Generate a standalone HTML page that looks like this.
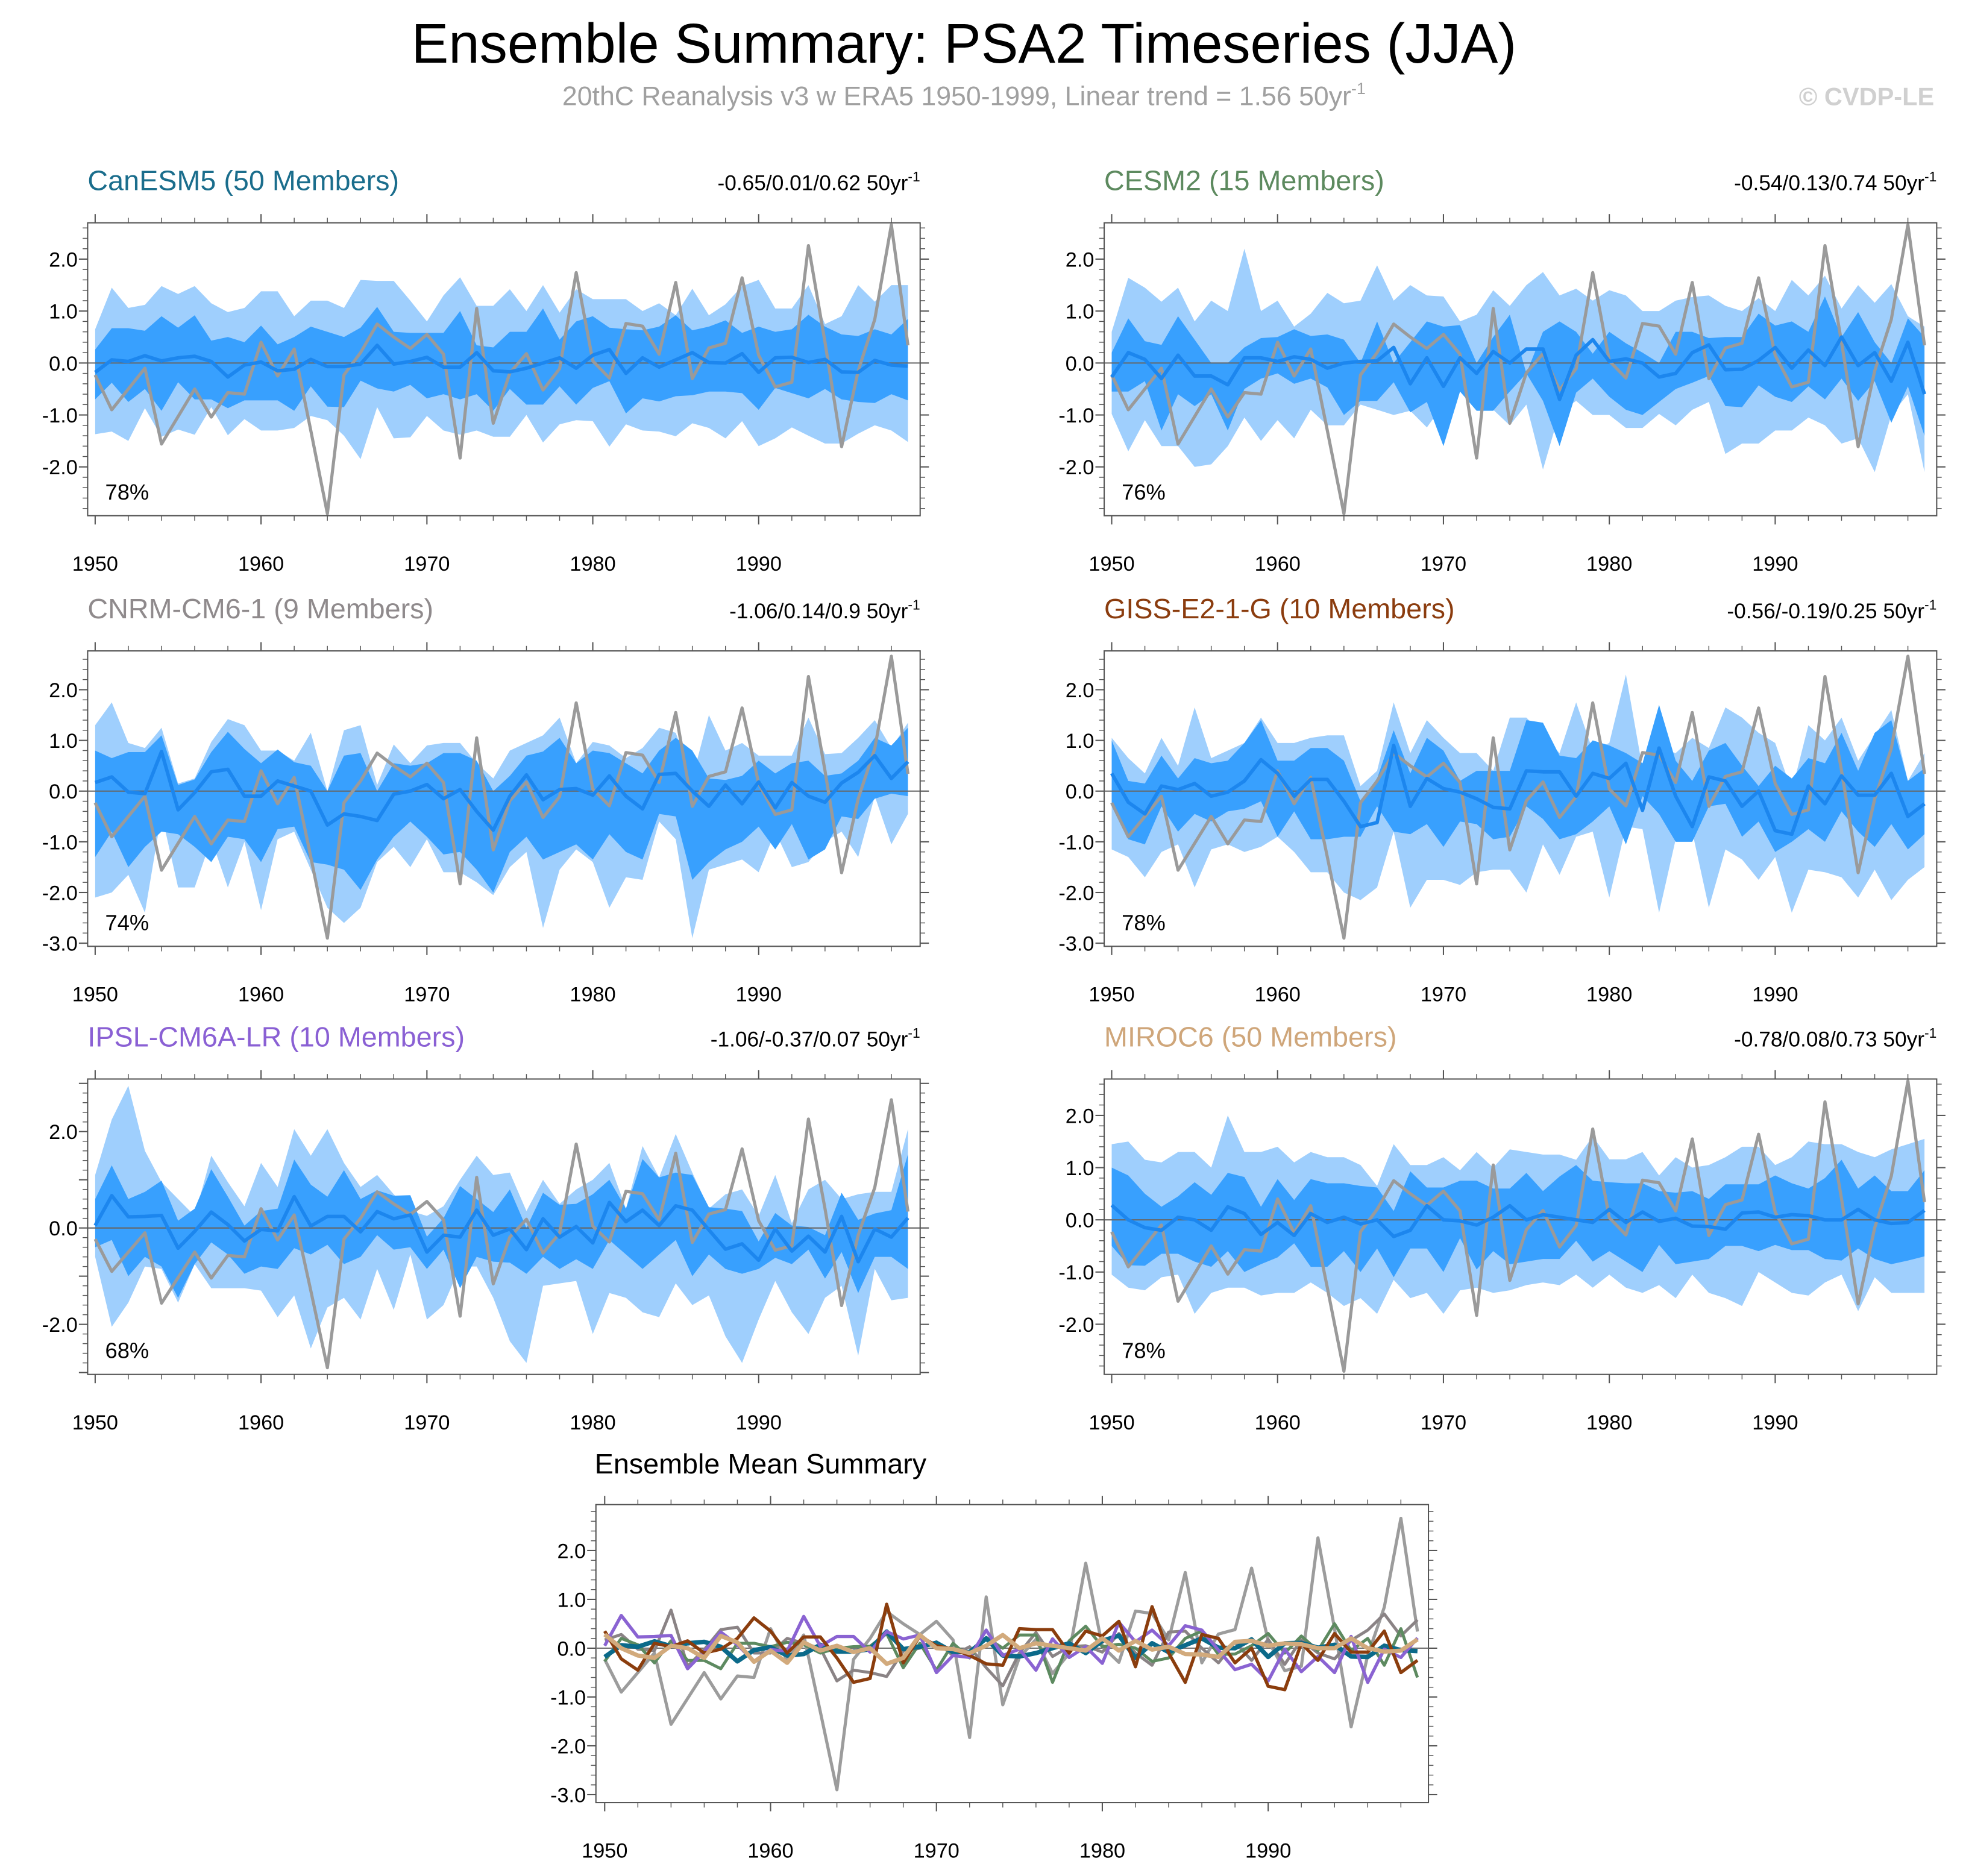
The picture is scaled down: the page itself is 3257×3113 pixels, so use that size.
<!DOCTYPE html>
<html><head><meta charset="utf-8"><title>Ensemble Summary: PSA2 Timeseries (JJA)</title>
<style>
html,body{margin:0;padding:0;background:#fff;}
svg{display:block;font-family:"Liberation Sans",Arial,sans-serif;}
</style></head>
<body>
<svg id="chart" xmlns="http://www.w3.org/2000/svg" width="3257" height="3113" viewBox="0 0 1568 1498.7">
<rect x="0" y="0" width="1568" height="1498.7" fill="#fff"/>
<text x="770" y="50" text-anchor="middle" font-size="44.5" fill="#000">Ensemble Summary: PSA2 Timeseries (JJA)</text>
<text x="770" y="84" text-anchor="middle" font-size="21.5" fill="#a0a0a0">20thC Reanalysis v3 w ERA5 1950-1999, Linear trend = 1.56 50yr<tspan font-size="13" dy="-9">-1</tspan></text>
<text x="1545" y="84" text-anchor="end" font-size="20" font-weight="bold" fill="#d0d0d0">© CVDP-LE</text>
</svg>
<script>
// ---- data (1950-1999 JJA PSA2 index) ----
const startYear = 1950;
const nYears = 50;
const obs = [-0.23,-0.9,-0.5,-0.1,-1.56,-1.03,-0.5,-1.04,-0.57,-0.6,0.4,-0.25,0.27,-1.3,-2.9,-0.23,0.2,0.75,0.5,0.28,0.55,0.17,-1.83,1.05,-1.16,-0.19,0.18,-0.52,-0.11,1.74,0.04,-0.29,0.76,0.71,0.17,1.55,-0.3,0.29,0.38,1.64,0.15,-0.46,-0.37,2.26,0.4,-1.61,-0.15,0.84,2.66,0.34];

const canMean = [-0.18,0.06,0.03,0.14,0.04,0.1,0.13,0.03,-0.27,-0.04,0.02,-0.15,-0.12,0.07,-0.07,-0.07,-0.02,0.34,-0.02,0.03,0.11,-0.08,-0.08,0.2,-0.15,-0.17,-0.1,0.0,0.1,-0.1,0.15,0.26,-0.2,0.1,-0.08,0.06,0.2,0.01,0.0,0.18,-0.18,0.1,0.11,0.01,0.07,-0.17,-0.18,0.05,-0.04,-0.06];
const canDarkHi = [0.26,0.67,0.67,0.62,0.9,0.68,0.92,0.43,0.5,0.4,0.72,0.36,0.5,0.7,0.6,0.5,0.68,1.08,0.6,0.58,0.58,0.58,1.0,0.34,0.3,0.6,0.6,1.05,0.45,0.8,0.9,0.68,0.65,0.63,0.7,0.92,0.63,0.7,0.82,0.58,0.7,0.6,0.65,0.93,0.7,0.55,0.52,0.65,0.55,0.85];
const canDarkLo = [-0.7,-0.38,-0.75,-0.5,-0.92,-0.37,-0.7,-0.7,-0.87,-0.72,-0.72,-0.72,-0.92,-0.45,-0.84,-0.85,-0.34,-0.49,-0.55,-0.42,-0.68,-0.6,-0.7,-0.6,-0.92,-0.5,-0.8,-0.8,-0.45,-0.8,-0.48,-0.35,-0.97,-0.68,-0.74,-0.64,-0.62,-0.55,-0.55,-0.58,-0.9,-0.48,-0.58,-0.68,-0.5,-0.7,-0.75,-0.77,-0.6,-0.72];
const canLightHi = [0.65,1.45,1.06,1.12,1.48,1.33,1.48,1.15,0.98,1.06,1.38,1.38,0.9,1.2,1.2,1.06,1.6,1.58,1.58,1.2,0.8,1.3,1.65,1.1,1.1,1.42,1.0,1.5,0.97,1.42,1.23,1.23,1.23,1.0,1.15,0.92,1.43,0.92,1.13,1.48,1.6,1.05,1.05,1.5,0.75,0.9,1.5,1.18,1.5,1.5];
const canLightLo = [-1.37,-1.32,-1.5,-0.87,-1.42,-1.28,-1.38,-0.85,-1.39,-1.08,-1.3,-1.3,-1.25,-1.02,-1.1,-1.4,-1.85,-0.85,-1.45,-1.43,-1.02,-1.3,-1.38,-1.3,-1.42,-1.42,-1.0,-1.53,-1.18,-1.1,-1.12,-1.61,-1.18,-1.3,-1.32,-1.41,-1.16,-1.25,-1.45,-1.12,-1.6,-1.45,-1.24,-1.4,-1.55,-1.55,-1.36,-1.2,-1.3,-1.52];

const cesmMean = [-0.27,0.2,0.07,-0.3,0.15,-0.25,-0.25,-0.42,0.1,0.1,0.03,0.12,0.07,-0.1,0.0,0.03,0.04,0.3,-0.4,0.1,-0.45,0.1,-0.2,0.22,0.0,0.27,0.27,-0.7,0.15,0.45,0.03,0.08,0.0,-0.27,-0.2,0.2,0.35,-0.13,-0.12,0.05,0.3,-0.1,0.25,-0.05,0.5,-0.05,0.2,-0.35,0.4,-0.6];
const cesmDarkHi = [0.2,0.86,0.42,0.35,0.9,0.45,0.0,0.0,0.3,0.48,0.5,0.65,0.52,0.55,0.45,0.0,0.8,0.0,0.4,0.8,0.7,0.73,0.0,0.5,0.93,-0.2,0.6,0.8,0.6,0.18,0.6,0.38,0.2,0.0,0.6,0.6,0.48,0.5,0.5,0.95,0.72,0.8,0.6,1.28,0.5,0.98,0.4,0.0,0.86,0.5];
const cesmDarkLo = [-0.55,-0.55,-0.35,-1.3,-0.6,-0.83,-0.6,-1.3,-0.5,-0.3,-0.2,-0.4,-0.3,-0.47,-1.0,-0.73,-0.73,-0.37,-0.95,-0.75,-1.6,-0.55,-0.92,-0.92,-0.55,-0.2,-0.73,-1.6,-0.57,-0.3,-0.65,-0.9,-1.0,-0.75,-0.5,-0.38,-0.25,-0.83,-0.85,-0.43,-0.65,-0.75,-0.45,-0.7,-0.3,-0.73,-0.35,-1.15,-0.45,-1.4];
const cesmLightHi = [0.6,1.64,1.45,1.18,1.45,0.8,1.2,1.0,2.2,1.0,1.2,0.7,0.95,1.35,1.15,1.2,1.88,1.2,1.5,1.3,1.28,0.8,0.93,1.4,1.1,1.5,1.75,1.3,1.43,1.2,1.4,1.3,1.0,1.0,1.2,1.27,1.3,1.1,1.0,1.25,1.0,1.6,1.3,1.68,1.05,1.5,1.16,1.52,0.9,0.7];
const cesmLightLo = [-0.98,-1.7,-1.1,-1.6,-1.6,-2.0,-1.95,-1.6,-1.05,-1.5,-1.1,-1.45,-0.9,-1.2,-1.2,-0.8,-0.9,-1.0,-0.92,-1.24,-0.8,-0.35,-0.25,-0.9,-1.2,-0.8,-2.05,-0.95,-0.73,-1.0,-1.0,-1.25,-1.25,-0.98,-1.2,-0.9,-0.75,-1.75,-1.55,-1.55,-1.3,-1.3,-1.05,-1.2,-1.55,-1.45,-2.1,-1.0,-0.6,-2.1];

const cnrmMean = [0.17,0.28,-0.02,-0.05,0.78,-0.37,-0.03,0.38,0.43,-0.1,-0.1,0.2,0.1,0.0,-0.67,-0.45,-0.5,-0.58,-0.06,0.0,0.13,-0.15,0.03,-0.4,-0.77,-0.1,0.32,-0.17,0.03,0.05,-0.08,0.3,-0.1,-0.35,0.33,0.35,0.0,-0.3,0.12,-0.25,0.18,-0.33,0.17,-0.1,-0.22,0.16,0.37,0.7,0.25,0.58];
const cnrmDarkHi = [0.8,0.65,0.77,0.77,1.1,0.12,0.23,0.77,1.17,0.83,0.55,0.82,0.57,0.5,0.0,0.7,0.75,0.0,0.55,0.5,0.55,0.75,0.75,0.6,0.0,0.3,0.7,0.78,1.05,0.55,0.8,0.75,0.55,0.35,0.8,1.05,0.8,0.25,0.22,0.3,0.6,0.35,0.55,0.6,0.3,0.35,0.6,1.05,0.9,1.25];
const cnrmDarkLo = [-1.3,-0.8,-1.5,-1.1,-0.8,-0.85,-1.1,-1.4,-0.9,-0.95,-1.4,-0.75,-0.7,-1.4,-1.45,-1.55,-1.95,-1.35,-0.9,-0.6,-0.9,-1.25,-1.2,-1.55,-2.0,-1.2,-0.9,-1.35,-1.2,-1.05,-1.35,-0.85,-1.2,-1.35,-0.45,-0.5,-1.75,-1.4,-1.15,-1.0,-0.7,-1.15,-0.65,-1.35,-1.15,-0.5,-0.55,-0.15,-0.05,-0.1];
const cnrmLightHi = [1.3,1.75,0.95,0.85,1.25,0.15,0.25,0.97,1.42,1.3,0.8,0.8,0.6,1.15,0.0,1.2,1.3,0.12,0.92,0.55,0.9,0.95,0.95,0.55,0.25,0.8,0.95,1.1,1.45,0.55,0.97,0.9,0.65,0.85,1.25,1.15,0.25,1.5,0.8,0.95,0.7,0.7,0.7,1.45,0.73,0.75,1.05,1.4,0.85,1.35];
const cnrmLightLo = [-2.1,-2.0,-1.65,-2.4,-0.45,-1.9,-1.9,-0.95,-1.9,-1.0,-2.35,-0.95,-0.8,-1.55,-2.3,-2.6,-2.3,-1.4,-1.1,-1.5,-0.95,-1.6,-1.6,-1.8,-2.05,-1.5,-1.2,-2.7,-1.55,-1.15,-1.4,-2.3,-1.7,-1.75,-0.6,-0.95,-2.9,-1.55,-1.45,-1.35,-1.6,-0.8,-1.5,-1.4,-1.0,-0.8,-1.3,-0.1,-1.05,-0.45];

const gissMean = [0.35,-0.22,-0.45,0.1,0.03,0.15,-0.1,-0.02,0.2,0.62,0.35,-0.1,0.23,0.23,-0.2,-0.7,-0.62,0.9,-0.3,0.25,0.05,-0.02,-0.15,-0.32,-0.35,0.4,0.38,0.38,-0.1,0.35,0.25,0.55,-0.38,0.85,-0.1,-0.7,0.28,0.2,-0.3,0.0,-0.78,-0.85,0.1,-0.25,0.3,-0.08,-0.08,0.35,-0.5,-0.25];
const gissDarkHi = [1.0,0.2,0.15,0.7,0.25,0.65,0.55,0.6,0.95,1.4,0.6,0.6,0.85,0.85,0.6,-0.2,0.25,1.2,0.35,1.05,0.8,0.2,0.4,0.4,0.4,1.4,1.35,0.7,0.65,1.0,0.9,0.75,0.55,1.7,0.6,0.2,0.8,0.95,0.5,0.1,0.5,0.25,0.65,0.55,1.15,0.4,1.15,1.4,0.2,0.45];
const gissDarkLo = [-0.25,-0.95,-1.05,-0.3,-0.8,-0.45,-0.6,-0.4,-0.35,-0.2,-0.9,-0.4,-0.95,-0.95,-0.9,-0.9,-0.3,-0.8,-0.85,-0.65,-1.1,-0.6,-0.65,-0.95,-0.9,-0.3,-0.55,-0.95,-0.85,-0.6,-0.3,-1.05,-0.1,-0.45,-1.0,-1.0,-0.3,-0.25,-0.9,-0.6,-1.2,-1.0,-0.75,-1.0,-0.4,-0.8,-1.1,-0.65,-1.15,-0.85];
const gissLightHi = [1.05,0.65,0.35,1.05,0.5,1.65,0.65,0.8,0.95,1.45,0.95,0.95,1.05,1.1,1.1,0.1,0.4,1.75,0.75,1.4,1.05,0.75,0.75,0.4,1.45,1.45,1.1,0.75,1.75,0.8,0.95,2.3,0.45,0.85,0.75,1.05,0.85,1.65,1.45,1.15,0.95,0.0,1.3,1.0,1.45,0.6,1.1,1.6,0.2,0.75];
const gissLightLo = [-1.15,-1.3,-1.7,-1.2,-1.05,-1.9,-1.15,-1.05,-1.2,-1.1,-0.9,-1.2,-1.6,-1.6,-2.0,-2.15,-1.9,-0.8,-2.3,-1.75,-1.75,-1.85,-1.6,-1.55,-1.55,-2.0,-1.05,-1.65,-0.9,-0.8,-2.1,-0.7,-0.75,-2.4,-0.95,-0.8,-2.3,-1.15,-1.35,-1.75,-1.3,-2.4,-1.55,-1.6,-1.7,-2.1,-1.55,-2.15,-1.75,-1.5];

const ipslMean = [0.05,0.67,0.23,0.24,0.26,-0.42,-0.07,0.33,0.07,-0.27,-0.03,-0.06,0.65,0.04,0.24,0.24,-0.08,0.34,0.19,0.27,-0.5,-0.15,-0.19,0.37,-0.15,-0.02,-0.45,0.19,-0.19,0.03,-0.31,0.53,0.13,0.37,0.05,0.46,0.37,-0.04,-0.44,-0.33,-0.67,-0.02,-0.48,-0.17,-0.5,0.24,-0.7,-0.02,-0.19,0.21];
const ipslDarkHi = [0.6,1.3,0.6,0.75,0.98,0.15,0.4,1.22,0.65,0.05,0.35,0.4,1.42,0.9,0.65,1.2,0.6,0.78,0.67,0.68,-0.18,0.2,0.87,0.6,0.33,0.8,0.0,0.73,0.48,0.5,0.7,1.0,0.4,1.43,1.05,1.15,1.1,0.43,0.4,0.35,-0.28,0.31,0.05,0.02,-0.15,0.73,0.17,0.3,0.37,1.53];
const ipslDarkLo = [-0.4,-0.25,-1.0,-0.6,-0.8,-1.45,-0.75,-0.3,-0.55,-0.95,-0.8,-0.85,-0.42,-0.55,-0.35,-0.75,-0.6,-0.15,-0.45,-0.4,-0.85,-0.45,-1.25,-0.6,-0.7,-0.72,-0.95,-0.6,-0.85,-0.65,-0.85,-0.25,-0.55,-0.85,-0.55,-0.25,-1.0,-0.55,-0.85,-0.95,-0.85,-0.62,-0.75,-0.45,-1.05,-0.5,-1.35,-0.6,-0.6,-0.85];
const ipslLightHi = [1.1,2.25,2.95,1.6,0.95,0.6,0.25,1.5,0.95,0.45,1.35,0.85,2.05,1.5,2.05,1.35,0.85,1.1,0.7,0.35,0.25,0.45,1.0,1.5,1.1,1.15,0.35,1.0,0.5,0.8,1.0,1.35,0.4,1.7,1.05,1.95,1.15,0.4,0.7,0.8,0.25,1.1,0.1,0.8,1.0,0.6,0.7,0.75,0.75,2.05];
const ipslLightLo = [-0.6,-2.05,-1.55,-0.8,-0.85,-1.55,-0.75,-1.25,-1.25,-1.25,-1.3,-1.85,-1.4,-2.5,-1.65,-1.45,-1.9,-0.85,-1.7,-0.55,-1.9,-1.6,-0.8,-0.8,-1.45,-2.35,-2.8,-1.2,-1.15,-1.1,-2.2,-1.35,-1.45,-1.75,-1.85,-1.15,-1.6,-1.4,-2.25,-2.8,-1.9,-1.1,-1.75,-2.2,-1.45,-1.2,-2.65,-0.85,-1.5,-1.45];

const mirocMean = [0.28,0.0,-0.15,-0.2,0.05,0.0,-0.2,0.25,0.12,-0.28,-0.05,-0.3,0.12,-0.05,0.05,-0.08,0.0,-0.32,-0.2,0.27,0.0,-0.02,-0.1,0.05,0.27,0.0,0.1,0.05,0.0,-0.05,0.2,-0.05,0.15,-0.03,0.03,-0.12,-0.13,-0.18,0.13,0.15,0.05,0.1,0.08,0.0,0.0,0.2,0.0,-0.07,-0.05,0.18];
const mirocDarkHi = [1.0,0.85,0.5,0.25,0.45,0.72,0.48,0.9,0.82,0.25,0.78,0.38,0.78,0.7,0.7,0.65,0.62,0.17,0.93,0.62,0.62,0.75,0.75,0.6,0.6,0.9,0.55,0.83,1.05,0.75,0.72,0.7,0.7,0.55,0.52,0.55,0.4,0.68,0.68,0.68,0.85,0.7,0.6,0.8,1.15,0.6,0.85,0.55,0.55,0.95];
const mirocDarkLo = [-0.5,-0.87,-0.88,-0.65,-0.65,-0.8,-0.9,-0.6,-1.0,-0.85,-0.72,-0.45,-0.9,-0.9,-0.6,-1.0,-0.55,-1.1,-0.55,-0.55,-1.0,-0.35,-0.95,-0.6,-0.85,-0.8,-0.75,-0.75,-0.4,-0.8,-0.6,-0.8,-1.0,-0.48,-0.85,-0.8,-0.75,-0.5,-0.5,-0.6,-0.48,-0.58,-0.58,-0.75,-0.78,-0.55,-0.75,-0.85,-0.78,-0.7];
const mirocLightHi = [1.45,1.5,1.15,1.1,1.3,1.3,1.0,2.0,1.3,1.3,1.4,1.1,1.3,1.2,1.2,1.05,0.65,1.45,1.05,1.05,1.2,0.95,1.3,1.0,1.35,1.3,1.25,1.25,1.15,1.6,1.16,1.16,1.3,0.85,1.2,1.0,1.05,1.2,1.4,1.4,1.05,1.2,1.5,1.45,1.45,1.3,1.2,1.35,1.45,1.55];
const mirocLightLo = [-1.05,-1.3,-1.35,-1.1,-1.05,-1.8,-1.4,-1.3,-1.3,-1.45,-1.4,-1.4,-1.2,-1.4,-1.65,-1.5,-1.8,-1.15,-1.5,-1.4,-1.8,-1.35,-1.3,-1.4,-1.35,-1.25,-1.2,-1.25,-1.05,-1.3,-1.05,-1.3,-1.4,-1.25,-1.5,-1.05,-1.4,-1.5,-1.65,-1.0,-1.2,-1.4,-1.45,-1.2,-1.05,-1.75,-1.1,-1.4,-1.4,-1.4];

const xTickLabels = ["1950","1960","1970","1980","1990"];
const yTicksA = [2,1,0,-1,-2];
const yTicksB = [2,1,0,-1,-2,-3];
const yTicksC = [2,0,-2];

// ---- drawing ----
const NS = "http://www.w3.org/2000/svg";
const svg = document.getElementById("chart");
function mk(tag, attrs, parent) {
  const e = document.createElementNS(NS, tag);
  for (const k in attrs) e.setAttribute(k, attrs[k]);
  (parent || svg).appendChild(e);
  return e;
}
let clipId = 0;

function makeAxes(g, box, yZero, yScale, yTicks, yMin, yMax) {
  const xOf = yr => box.x0 + (yr - startYear) * box.dx;
  const yOf = v => yZero - v * yScale;
  const frame = mk("rect", {x: box.l, y: box.t, width: box.r - box.l, height: box.b - box.t, fill: "none", stroke: "#555", "stroke-width": 1}, g);
  
  
  for (let yr = startYear; yr < startYear + nYears; yr += 2) {
    const x = xOf(yr);
    const major = (yr % 10 === 0);
    const len = major ? 7 : 4;
    mk("line", {x1: x, x2: x, y1: box.b, y2: box.b + len, stroke: "#555", "stroke-width": major ? 1 : 0.7}, g);
    mk("line", {x1: x, x2: x, y1: box.t, y2: box.t - len, stroke: "#555", "stroke-width": major ? 1 : 0.7}, g);
  }
  xTickLabels.forEach(lbl => {
    const t = mk("text", {x: xOf(+lbl), y: box.b + 44, "text-anchor": "middle", "font-size": 16.5, fill: "#000"}, g);
    t.textContent = lbl;
    
    
  });
  for (let i = Math.ceil(yMin * 5); i <= Math.floor(yMax * 5); i++) {
    const v = i / 5;
    const y = yOf(v);
    const major = (i % 5 === 0);
    const len = major ? 7 : 4;
    mk("line", {x1: box.l, x2: box.l - len, y1: y, y2: y, stroke: "#555", "stroke-width": major ? 1 : 0.7}, g);
    mk("line", {x1: box.r, x2: box.r + len, y1: y, y2: y, stroke: "#555", "stroke-width": major ? 1 : 0.7}, g);
  }
  yTicks.forEach(v => {
    const t = mk("text", {x: box.l - 8, y: yOf(v) + 6, "text-anchor": "end", "font-size": 16.5, fill: "#000"}, g);
    t.textContent = v.toFixed(1);
    
    
  });
  return {xOf, yOf};
}

function linePath(arr, xOf, yOf) {
  return arr.map((v, i) => (i ? "L" : "M") + xOf(startYear + i).toFixed(2) + "," + yOf(v).toFixed(2)).join(" ");
}
function bandPath(hi, lo, xOf, yOf) {
  let d = hi.map((v, i) => (i ? "L" : "M") + xOf(startYear + i).toFixed(2) + "," + yOf(v).toFixed(2)).join(" ");
  for (let i = lo.length - 1; i >= 0; i--) d += " L" + xOf(startYear + i).toFixed(2) + "," + yOf(lo[i]).toFixed(2);
  return d + " Z";
}

function drawPanel(p, mean, dHi, dLo, lHi, lLo) {
  const g = mk("g", {});
  
  
  const id = "clip" + (clipId++);
  const cp = mk("clipPath", {id: id}, g);
  mk("rect", {x: p.box.l, y: p.box.t, width: p.box.r - p.box.l, height: p.box.b - p.box.t}, cp);
  const yMin = (p.yZero - p.box.b) / p.yScale, yMax = (p.yZero - p.box.t) / p.yScale;
  const pg = mk("g", {"clip-path": "url(#" + id + ")"}, g);
  const ax = makeAxes(g, p.box, p.yZero, p.yScale, p.yTicks, yMin, yMax);
  const light = mk("path", {d: bandPath(lHi, lLo, ax.xOf, ax.yOf), fill: "#9fcffd"}, pg);
  
  
  const dark = mk("path", {d: bandPath(dHi, dLo, ax.xOf, ax.yOf), fill: "#38a0fe"}, pg);
  
  
  const zl = mk("line", {x1: p.box.l, x2: p.box.r, y1: ax.yOf(0), y2: ax.yOf(0), stroke: "#666", "stroke-width": 1}, pg);
  
  
  const ob = mk("path", {d: linePath(obs, ax.xOf, ax.yOf), fill: "none", stroke: "#9a9a9a", "stroke-width": 2.5, "stroke-linejoin": "round"}, g);
  
  
  const ml = mk("path", {d: linePath(mean, ax.xOf, ax.yOf), fill: "none", stroke: "#1c86ee", "stroke-width": 2.8, "stroke-linejoin": "round"}, g);
  
  
  const tt = mk("text", {x: p.box.l, y: p.box.t - 26, "font-size": 22.5, fill: p.color}, g);
  tt.textContent = p.title;
  
  
  const tr = mk("text", {x: p.box.r, y: p.box.t - 26, "text-anchor": "end", "font-size": 17, fill: "#000"}, g);
  tr.innerHTML = p.trend + ' 50yr<tspan font-size="11" dy="-7">-1</tspan>';
  
  
  const pc = mk("text", {x: p.box.l + 14, y: p.box.b - 13, "font-size": 17.5, fill: "#000"}, g);
  pc.textContent = p.pct;
  
  
}

const L = {l: 70, r: 735, x0: 76, dx: 13.25};
const R = {l: 882, r: 1547, x0: 888, dx: 13.25};
drawPanel({name: "canesm5", title: "CanESM5 (50 Members)", color: "#1a6d8c", trend: "-0.65/0.01/0.62", pct: "78%",
  box: Object.assign({t: 178, b: 412}, L), yZero: 290, yScale: 41.5, yTicks: yTicksA},
  canMean, canDarkHi, canDarkLo, canLightHi, canLightLo);
drawPanel({name: "cesm2", title: "CESM2 (15 Members)", color: "#5d8a5f", trend: "-0.54/0.13/0.74", pct: "76%",
  box: Object.assign({t: 178, b: 412}, R), yZero: 290, yScale: 41.5, yTicks: yTicksA},
  cesmMean, cesmDarkHi, cesmDarkLo, cesmLightHi, cesmLightLo);
drawPanel({name: "cnrm-cm6-1", title: "CNRM-CM6-1 (9 Members)", color: "#8f8a8c", trend: "-1.06/0.14/0.9", pct: "74%",
  box: Object.assign({t: 520, b: 756}, L), yZero: 632, yScale: 40.5, yTicks: yTicksB},
  cnrmMean, cnrmDarkHi, cnrmDarkLo, cnrmLightHi, cnrmLightLo);
drawPanel({name: "giss-e2-1-g", title: "GISS-E2-1-G (10 Members)", color: "#8b3c0e", trend: "-0.56/-0.19/0.25", pct: "78%",
  box: Object.assign({t: 520, b: 756}, R), yZero: 632, yScale: 40.5, yTicks: yTicksB},
  gissMean, gissDarkHi, gissDarkLo, gissLightHi, gissLightLo);
drawPanel({name: "ipsl-cm6a-lr", title: "IPSL-CM6A-LR (10 Members)", color: "#8a60d4", trend: "-1.06/-0.37/0.07", pct: "68%",
  box: Object.assign({t: 862, b: 1098}, L), yZero: 981, yScale: 38.5, yTicks: yTicksC},
  ipslMean, ipslDarkHi, ipslDarkLo, ipslLightHi, ipslLightLo);
drawPanel({name: "miroc6", title: "MIROC6 (50 Members)", color: "#cfa67a", trend: "-0.78/0.08/0.73", pct: "78%",
  box: Object.assign({t: 862, b: 1098}, R), yZero: 974.5, yScale: 41.7, yTicks: yTicksA},
  mirocMean, mirocDarkHi, mirocDarkLo, mirocLightHi, mirocLightLo);

(function () {
  const box = {l: 476, r: 1141, t: 1202, b: 1440, x0: 483, dx: 13.25};
  const yZero = 1316.7, yScale = 39;
  const g = mk("g", {});
  
  
  const yMin = (yZero - box.b) / yScale, yMax = (yZero - box.t) / yScale;
  const ax = makeAxes(g, box, yZero, yScale, yTicksB, yMin, yMax);
  const zl = mk("line", {x1: box.l, x2: box.r, y1: ax.yOf(0), y2: ax.yOf(0), stroke: "#777", "stroke-width": 1}, g);
  
  
  const series = [
    ["observed", obs, "#9c9c9c", 2.5],
    ["cnrm-cm6-1", cnrmMean, "#8a8385", 2.4],
    ["cesm2", cesmMean, "#5d8a60", 2.4],
    ["canesm5", canMean, "#0b6a8a", 3.6],
    ["ipsl-cm6a-lr", ipslMean, "#8a63d2", 2.6],
    ["giss-e2-1-g", gissMean, "#8b3d0d", 2.6],
    ["miroc6", mirocMean, "#d2aa7c", 3.4]
  ];
  series.forEach(s => {
    const p = mk("path", {d: linePath(s[1], ax.xOf, ax.yOf), fill: "none", stroke: s[2], "stroke-width": s[3], "stroke-linejoin": "round"}, g);
    
    
  });
  const tt = mk("text", {x: 475, y: 1177, "font-size": 22.5, fill: "#000"}, g);
  tt.textContent = "Ensemble Mean Summary";
  
  
})();
</script>
</body></html>
